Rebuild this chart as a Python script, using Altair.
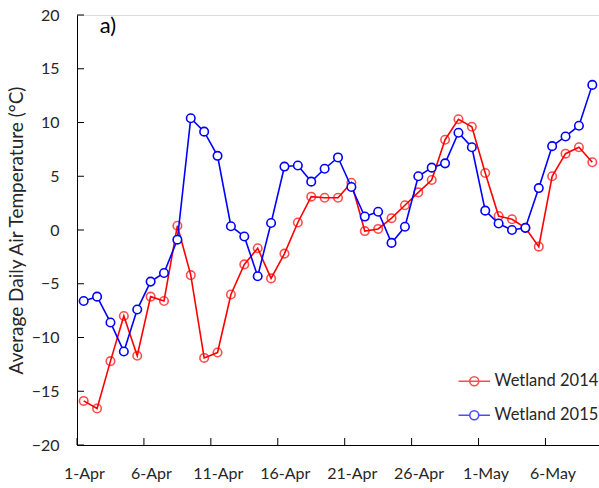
import json
import altair as alt
import pandas as pd

# ---- data ----
dates = [f"{d}-Apr" for d in range(1, 31)] + [f"{d}-May" for d in range(1, 10)]
wetland_2014 = [-15.9, -16.6, -12.2, -8.0, -11.7, -6.2, -6.6, 0.4, -4.2, -11.9,
                -11.4, -6.0, -3.2, -1.7, -4.5, -2.2, 0.7, 3.1, 3.0, 3.0,
                4.4, -0.1, 0.1, 1.1, 2.3, 3.5, 4.65, 8.4, 10.3, 9.6,
                5.3, 1.3, 1.0, 0.2, -1.55, 5.0, 7.1, 7.7, 6.3]
wetland_2015 = [-6.6, -6.2, -8.6, -11.3, -7.4, -4.8, -4.0, -0.9, 10.4, 9.15,
                6.9, 0.35, -0.6, -4.3, 0.65, 5.9, 6.0, 4.5, 5.7, 6.75,
                4.0, 1.25, 1.7, -1.2, 0.3, 5.0, 5.8, 6.2, 9.05, 7.7,
                1.8, 0.6, 0.0, 0.2, 3.9, 7.8, 8.7, 9.7, 13.5]
series_names = ["Wetland 2014", "Wetland 2015"]
series_colors = ["#FF0000", "#0000FF"]
tick_labels = ["1-Apr", "6-Apr", "11-Apr", "16-Apr", "21-Apr", "26-Apr", "1-May", "6-May"]
y_ticks = [-20, -15, -10, -5, 0, 5, 10, 15, 20]

# ---- tables ----
rows = []
for name, vals in zip(series_names, [wetland_2014, wetland_2015]):
    for i, (d, v) in enumerate(zip(dates, vals)):
        rows.append({"series": name, "date": d, "day": i + 0.5, "temp": v})
df = pd.DataFrame(rows)
xt = pd.DataFrame({"tick": [dates.index(t) for t in tick_labels]})
yt = pd.DataFrame({"tick": y_ticks})

W, H = 522, 430
FONT = "Lato"
TXT = "#262626"

xscale = alt.Scale(domain=[0, len(dates)], nice=False, zero=False)
yscale = alt.Scale(domain=[-20, 20], nice=False)
color_scale = alt.Scale(domain=series_names, range=series_colors)

# legend symbols: red marker has the line drawn through it, blue has a clean marker
path_through = "M-3.5,0H3.5 M-1,0A1,1 0 1 1 1,0A1,1 0 1 1 -1,0"
path_broken = "M-3.5,0H-1 M1,0H3.5 M-1,0A1,1 0 1 1 1,0A1,1 0 1 1 -1,0"
shape_scale = alt.Scale(domain=series_names, range=[path_through, path_broken])

label_expr = json.dumps(dates) + "[round(datum.value)]"

x_enc = alt.X("day:Q", scale=xscale,
              axis=alt.Axis(values=[dates.index(t) for t in tick_labels],
                            labelExpr=label_expr, ticks=False, grid=False,
                            labelOffset=7, labelPadding=20, labelFontSize=16,
                            labelFont=FONT, labelColor=TXT, domainColor="black",
                            labelFlush=False, title=None))
y_enc = alt.Y("temp:Q", scale=yscale,
              axis=alt.Axis(values=y_ticks, ticks=False, grid=False,
                            labelPadding=18, labelFontSize=16, labelFont=FONT,
                            labelColor=TXT, domainColor="black",
                            title="Average Daily Air Temperature (°C)",
                            titleFont=FONT, titleFontSize=19, titleFontWeight="normal",
                            titleColor=TXT, titlePadding=5))

base = alt.Chart(df)
d14 = base.transform_filter(alt.datum.series == series_names[0])
d15 = base.transform_filter(alt.datum.series == series_names[1])

line_2014 = d14.mark_line(strokeWidth=1.6, color=series_colors[0]).encode(x=x_enc, y=y_enc)

leg = alt.Legend(orient="none", legendX=389, legendY=358, title=None, symbolSize=81,
                 symbolStrokeWidth=1.6, labelFont=FONT, labelFontSize=16.5,
                 labelColor=TXT, labelOffset=12, rowPadding=17, padding=0)

legend_layer = base.transform_filter("false").mark_point(
    filled=False, strokeWidth=1.6, size=81
).encode(
    x="day:Q", y="temp:Q",
    color=alt.Color("series:N", scale=color_scale, legend=leg),
    shape=alt.Shape("series:N", scale=shape_scale, legend=leg),
)

pts_2014 = d14.mark_point(
    shape="circle", size=72, filled=False, strokeWidth=1.6, color=series_colors[0]
).encode(x="day:Q", y="temp:Q")

line_2015 = d15.mark_line(strokeWidth=1.6, color=series_colors[1]).encode(x="day:Q", y="temp:Q")

pts_2015 = d15.mark_point(
    shape="circle", size=72, filled=True, fill="white", stroke=series_colors[1],
    strokeWidth=1.6, opacity=1
).encode(x="day:Q", y="temp:Q")

xticks = alt.Chart(xt).mark_rule(color="black", strokeWidth=1).encode(
    x=alt.X("tick:Q", scale=xscale), y=alt.value(H), y2=alt.value(H - 7))
yticks = alt.Chart(yt).mark_rule(color="black", strokeWidth=1).encode(
    y=alt.Y("tick:Q", scale=yscale), x=alt.value(0), x2=alt.value(7))

label_a = alt.Chart(pd.DataFrame({"t": ["a)"]})).mark_text(
    align="left", baseline="middle", fontSize=22, font=FONT, color="black"
).encode(x=alt.datum(1.7), y=alt.datum(19.0), text="t:N")

chart = alt.layer(line_2014, legend_layer, pts_2014, line_2015, pts_2015,
                  xticks, yticks, label_a).properties(
    width=W, height=H,
    autosize=alt.AutoSizeParams(type="none"),
    padding={"left": 77, "top": 15, "right": 0, "bottom": 43},
).configure_view(stroke=None).configure(background="white")

chart.save("out.html", embed_options={"renderer": "svg", "actions": False})
